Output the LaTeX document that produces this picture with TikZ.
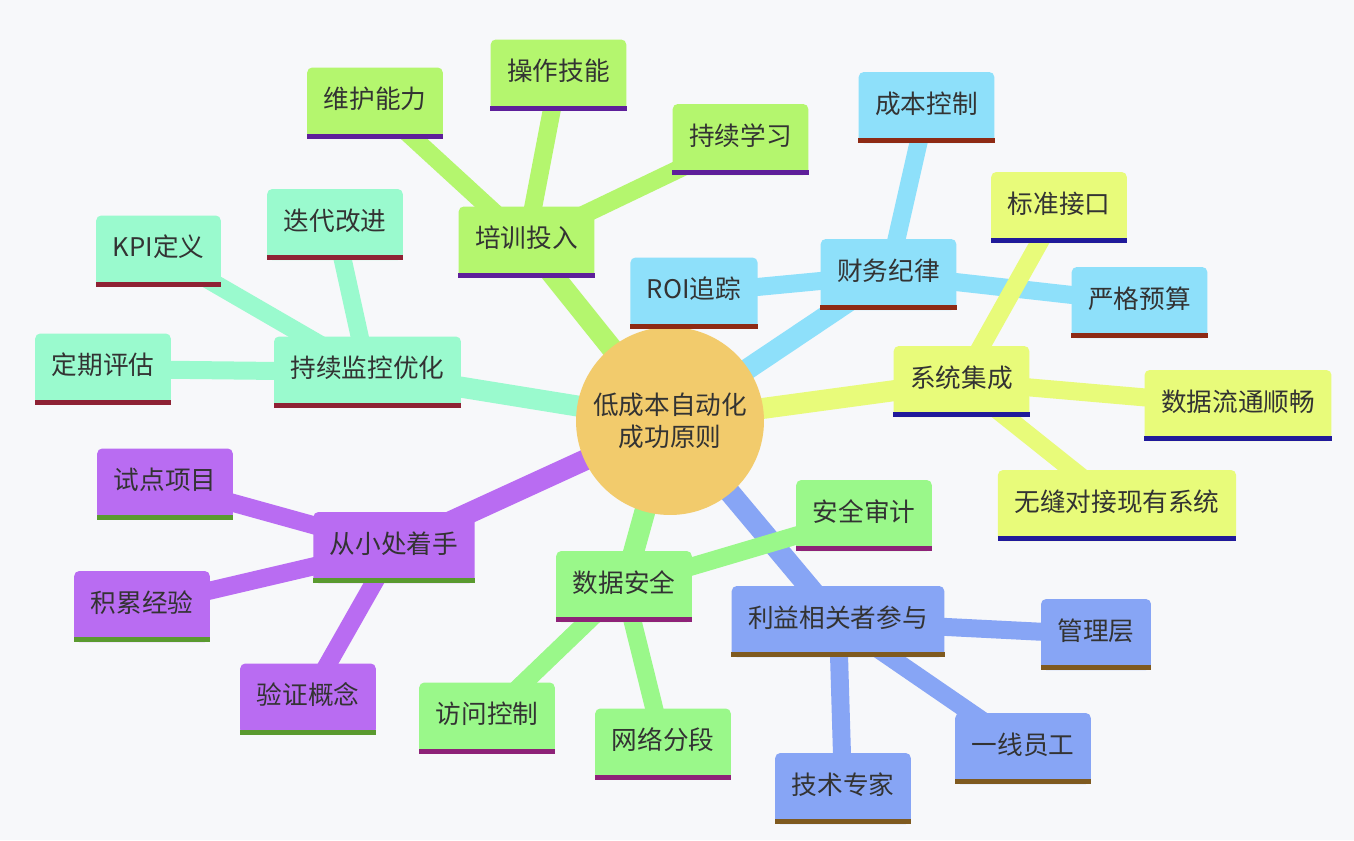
\documentclass[tikz,border=0pt]{standalone}
\usepackage{fontspec}
\setmainfont{Noto Sans CJK SC}
\usetikzlibrary{backgrounds}

% Colori
\definecolor{sfondo}{HTML}{F7F8FA}
\definecolor{testo}{HTML}{333333}
\definecolor{c-radice}{HTML}{F2CB6C}
\definecolor{c-formazione}{HTML}{B4F66E}
\definecolor{s-formazione}{HTML}{5E1F9A}
\definecolor{c-finanza}{HTML}{8EE0FA}
\definecolor{s-finanza}{HTML}{8E2A14}
\definecolor{c-sistemi}{HTML}{E8FB7A}
\definecolor{s-sistemi}{HTML}{201A9A}
\definecolor{c-persone}{HTML}{87A5F5}
\definecolor{s-persone}{HTML}{7F5A1F}
\definecolor{c-sicurezza}{HTML}{9AF88A}
\definecolor{s-sicurezza}{HTML}{8E2278}
\definecolor{c-inizio}{HTML}{B96CF2}
\definecolor{s-inizio}{HTML}{5A9A2F}
\definecolor{c-monitor}{HTML}{9AFACE}
\definecolor{s-monitor}{HTML}{8E2234}

\begin{document}
\begin{tikzpicture}[x=0.02cm, y=-0.02cm,
    ramo/.style={fill=#1, rounded corners=0.1cm, text=testo, inner xsep=0.33cm, inner ysep=0pt,
        minimum height=1.42cm, text height=12pt, text depth=5.4pt,
        font=\fontsize{14.6pt}{18pt}\selectfont},
    arco/.style={line width=0.36cm, draw=#1},
    arcoradice/.style={line width=0.42cm, draw=#1}]
    \useasboundingbox (0,0) rectangle (1354,840);

    % Nodo centrale
    \node[circle, fill=c-radice, minimum size=3.76cm, inner sep=0pt, text=testo, align=center,
        font=\fontsize{14.6pt}{18pt}\selectfont] (radice) at (670,421) {低成本自动化\\成功原则};

    % Formazione
    \node[ramo=c-formazione] (formazione) at (526.5,242) {培训投入};
    \node[ramo=c-formazione] (manutenzione) at (375,103) {维护能力};
    \node[ramo=c-formazione] (operativo) at (558.5,75) {操作技能};
    \node[ramo=c-formazione] (studio) at (740.5,139.5) {持续学习};

    % Finanza
    \node[ramo=c-finanza] (finanza) at (888.5,274.5) {财务纪律};
    \node[ramo=c-finanza] (costi) at (926.5,107.5) {成本控制};
    \node[ramo=c-finanza] (roi) at (694,293) {ROI追踪};
    \node[ramo=c-finanza] (budget) at (1139.5,302.5) {严格预算};

    % Sistemi
    \node[ramo=c-sistemi] (sistemi) at (961.5,381.5) {系统集成};
    \node[ramo=c-sistemi] (interfacce) at (1059,207.5) {标准接口};
    \node[ramo=c-sistemi] (flusso) at (1238,405.5) {数据流通顺畅};
    \node[ramo=c-sistemi] (aggancio) at (1117,505.5) {无缝对接现有系统};

    % Persone
    \node[ramo=c-persone] (persone) at (838,621.5) {利益相关者参与};
    \node[ramo=c-persone] (direzione) at (1096,634.5) {管理层};
    \node[ramo=c-persone] (operai) at (1023,748.5) {一线员工};
    \node[ramo=c-persone] (esperti) at (843,788.5) {技术专家};

    % Sicurezza
    \node[ramo=c-sicurezza] (sicurezza) at (624,586.5) {数据安全};
    \node[ramo=c-sicurezza] (audit) at (864,515.5) {安全审计};
    \node[ramo=c-sicurezza] (accessi) at (487,718) {访问控制};
    \node[ramo=c-sicurezza] (rete) at (663,744) {网络分段};

    % Inizio
    \node[ramo=c-inizio] (inizio) at (394,547.5) {从小处着手};
    \node[ramo=c-inizio] (pilota) at (165,484) {试点项目};
    \node[ramo=c-inizio] (esperienza) at (142,606.5) {积累经验};
    \node[ramo=c-inizio] (prova) at (308,699) {验证概念};

    % Monitoraggio
    \node[ramo=c-monitor] (monitor) at (367.5,372) {持续监控优化};
    \node[ramo=c-monitor] (kpi) at (158.5,251) {KPI定义};
    \node[ramo=c-monitor] (iterazione) at (335,224.5) {迭代改进};
    \node[ramo=c-monitor] (verifica) at (103,369) {定期评估};

    % Sottolineature
    \foreach \n in {formazione,manutenzione,operativo,studio}
        \fill[s-formazione] (\n.south west) rectangle ([yshift=0.1cm]\n.south east);
    \foreach \n in {finanza,costi,roi,budget}
        \fill[s-finanza] (\n.south west) rectangle ([yshift=0.1cm]\n.south east);
    \foreach \n in {sistemi,interfacce,flusso,aggancio}
        \fill[s-sistemi] (\n.south west) rectangle ([yshift=0.1cm]\n.south east);
    \foreach \n in {persone,direzione,operai,esperti}
        \fill[s-persone] (\n.south west) rectangle ([yshift=0.1cm]\n.south east);
    \foreach \n in {sicurezza,audit,accessi,rete}
        \fill[s-sicurezza] (\n.south west) rectangle ([yshift=0.1cm]\n.south east);
    \foreach \n in {inizio,pilota,esperienza,prova}
        \fill[s-inizio] (\n.south west) rectangle ([yshift=0.1cm]\n.south east);
    \foreach \n in {monitor,kpi,iterazione,verifica}
        \fill[s-monitor] (\n.south west) rectangle ([yshift=0.1cm]\n.south east);

    \begin{scope}[on background layer]
        % Sfondo
        \fill[sfondo] (0,0) rectangle (1354,840);

        % Rami dal centro
        \draw[arcoradice=c-formazione] (radice.center) -- (formazione.center);
        \draw[arcoradice=c-finanza] (radice.center) -- (finanza.center);
        \draw[arcoradice=c-sistemi] (radice.center) -- (sistemi.center);
        \draw[arcoradice=c-persone] (radice.center) -- (persone.center);
        \draw[arcoradice=c-sicurezza] (radice.center) -- (sicurezza.center);
        \draw[arcoradice=c-inizio] (radice.center) -- (inizio.center);
        \draw[arcoradice=c-monitor] (radice.center) -- (monitor.center);

        % Foglie
        \foreach \n in {manutenzione,operativo,studio}
            \draw[arco=c-formazione] (formazione.center) -- (\n.center);
        \foreach \n in {costi,roi,budget}
            \draw[arco=c-finanza] (finanza.center) -- (\n.center);
        \foreach \n in {interfacce,flusso,aggancio}
            \draw[arco=c-sistemi] (sistemi.center) -- (\n.center);
        \foreach \n in {direzione,operai,esperti}
            \draw[arco=c-persone] (persone.center) -- (\n.center);
        \foreach \n in {audit,accessi,rete}
            \draw[arco=c-sicurezza] (sicurezza.center) -- (\n.center);
        \foreach \n in {pilota,esperienza,prova}
            \draw[arco=c-inizio] (inizio.center) -- (\n.center);
        \foreach \n in {kpi,iterazione,verifica}
            \draw[arco=c-monitor] (monitor.center) -- (\n.center);
    \end{scope}
\end{tikzpicture}
\end{document}
